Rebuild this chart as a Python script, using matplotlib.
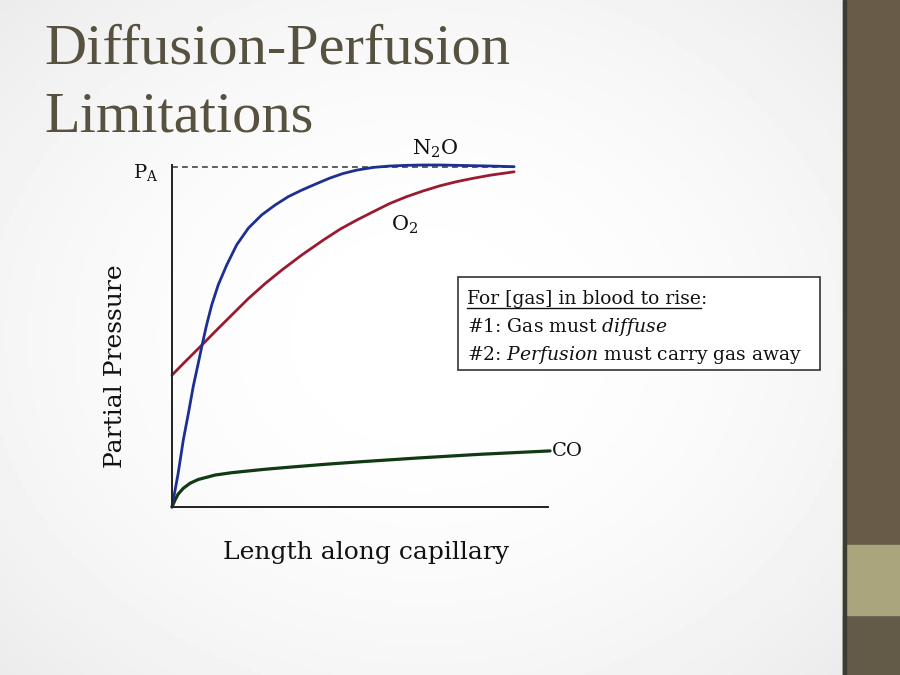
import numpy as np
import matplotlib
matplotlib.use('Agg')
import matplotlib.pyplot as plt
from matplotlib.patches import Rectangle

# ---- data (length along capillary, fraction of P_A) ----
n2o_x = [0.0, 0.018, 0.033, 0.048, 0.062, 0.077, 0.089, 0.101, 0.116, 0.135, 0.160,
         0.189, 0.223, 0.262, 0.301, 0.340, 0.379, 0.420, 0.460, 0.500, 0.540, 0.589,
         0.637, 0.686, 0.735, 0.784, 0.832, 0.881, 0.930, 1.0]
n2o_y = [0.0, 0.099, 0.197, 0.276, 0.354, 0.424, 0.481, 0.535, 0.594, 0.653, 0.712,
         0.771, 0.820, 0.859, 0.888, 0.913, 0.932, 0.950, 0.967, 0.981, 0.991, 0.999,
         1.003, 1.005, 1.006, 1.006, 1.005, 1.004, 1.003, 1.001]

o2_x = [0.0, 0.038, 0.087, 0.126, 0.175, 0.223, 0.272, 0.321, 0.379, 0.442, 0.491,
        0.540, 0.589, 0.637, 0.686, 0.735, 0.784, 0.832, 0.881, 0.930, 1.0]
o2_y = [0.388, 0.427, 0.476, 0.516, 0.565, 0.613, 0.657, 0.697, 0.741, 0.785, 0.817,
        0.844, 0.869, 0.893, 0.913, 0.930, 0.945, 0.957, 0.967, 0.976, 0.986]

co_x = [0.0, 0.009, 0.018, 0.033, 0.053, 0.077, 0.126, 0.175, 0.223, 0.272, 0.354,
        0.453, 0.550, 0.716, 0.900, 1.105]
co_y = [0.0, 0.021, 0.038, 0.055, 0.070, 0.081, 0.094, 0.101, 0.106, 0.111, 0.118,
        0.126, 0.133, 0.144, 0.155, 0.165]

pa_level = 1.0
title_lines = ["Diffusion-Perfusion", "Limitations"]
box_head = "For [gas] in blood to rise"
box_line1 = r"#1: Gas must $\mathit{diffuse}$"
box_line2 = r"#2: $\mathit{Perfusion}$ must carry gas away"

plt.rcParams['mathtext.fontset'] = 'custom'
plt.rcParams['mathtext.rm'] = 'DejaVu Serif'
plt.rcParams['mathtext.it'] = 'DejaVu Serif:italic'

W, H = 900, 675
fig = plt.figure(figsize=(9, 6.75), dpi=100)

def fx(px):
    return px / W

def fy(py):
    return 1 - py / H

# slide background with soft vignette
bg = fig.add_axes([0, 0, 1, 1])
bg.axis('off')
yy, xx = np.mgrid[0:1:200j, 0:1:200j]
r2 = ((xx - 0.47) / 0.5) ** 2 + ((yy - 0.5) / 0.55) ** 2
img = 1 - 0.045 * r2
bg.imshow(img, cmap='gray', vmin=0, vmax=1, extent=[0, 1, 0, 1], aspect='auto')
bg.set_xlim(0, 1)
bg.set_ylim(0, 1)

# right decorative bar
fig.patches.append(Rectangle((fx(843), 0), fx(900) - fx(843), 1, transform=fig.transFigure,
                             color='#685c49', zorder=1))
fig.patches.append(Rectangle((fx(843), 0), fx(900) - fx(843), fy(615),
                             transform=fig.transFigure, color='#635a48', zorder=1.5))
fig.patches.append(Rectangle((fx(843), fy(615)), fx(900) - fx(843), fy(545) - fy(615),
                             transform=fig.transFigure, color='#aaa57d', zorder=2))
fig.patches.append(Rectangle((fx(843), 0), fx(845.5) - fx(843), 1, transform=fig.transFigure,
                             color='#3c3c34', zorder=3))

# title
fig.text(fx(44), fy(63), title_lines[0], ha='left', va='baseline', fontsize=42,
         family='Liberation Serif', color='#57513f')
fig.text(fx(44), fy(131), title_lines[1], ha='left', va='baseline', fontsize=42,
         family='Liberation Serif', color='#57513f')

# main axes
ax = fig.add_axes([fx(172), fy(507), (548 - 172) / W, (507 - 165) / H])
ax.set_facecolor('none')
ax.set_xlim(0, 1.099)
ax.set_ylim(0, 1.006)
for s in ['top', 'right']:
    ax.spines[s].set_visible(False)
for s in ['left', 'bottom']:
    ax.spines[s].set_color('#222222')
    ax.spines[s].set_linewidth(1.4)
ax.set_xticks([])
ax.set_yticks([])

ax.plot([0, 1.0], [pa_level, pa_level], ls=(0, (3.5, 2.5)), color='#444444', lw=1.2)
ax.plot(co_x, co_y, color='#0f3a12', lw=2.3, solid_capstyle='round',
        solid_joinstyle='round', clip_on=False)
ax.plot(o2_x, o2_y, color='#9a1a32', lw=2.0, solid_capstyle='round',
        solid_joinstyle='round', clip_on=False)
ax.plot(n2o_x, n2o_y, color='#1c2f92', lw=2.0, solid_capstyle='round',
        solid_joinstyle='round', clip_on=False)

serif = 'DejaVu Serif'
ax.text(0.77, 1.02, r'$\mathrm{N_2O}$', fontsize=15, family=serif, ha='center', va='bottom',
        color='#111111')
ax.text(0.68, 0.83, r'$\mathrm{O_2}$', fontsize=15, family=serif, ha='center', va='center',
        color='#111111')
ax.text(1.11, co_y[-1], 'CO', fontsize=14, family=serif, ha='left', va='center',
        color='#111111')
ax.text(-0.04, 0.985, r'$\mathrm{P_A}$', fontsize=14, family=serif, ha='right', va='center',
        color='#111111')

# axis labels
fig.text(fx(366), fy(552), 'Length along capillary', fontsize=18, family=serif,
         color='#111111', ha='center', va='center')
fig.text(fx(116), fy(366), 'Partial Pressure', fontsize=18, family=serif,
         color='#111111', ha='center', va='center', rotation=90)

# text box
fig.patches.append(Rectangle((fx(458), fy(370)), fx(820) - fx(458), fy(277) - fy(370),
                             transform=fig.transFigure, facecolor='white', edgecolor='#333333',
                             lw=1.2, zorder=5))
t0 = fig.text(fx(467), fy(304), box_head, fontsize=13.5, family=serif, ha='left',
              va='baseline', color='#111111', zorder=6)
fig.text(fx(467), fy(332), box_line1, fontsize=13.5, family=serif, ha='left', va='baseline',
         color='#111111', zorder=6)
fig.text(fx(467), fy(360), box_line2, fontsize=13.5, family=serif, ha='left', va='baseline',
         color='#111111', zorder=6)

fig.canvas.draw()
bb = t0.get_window_extent(renderer=fig.canvas.get_renderer())
x1 = bb.x1 / fig.bbox.width
fig.text(x1, fy(304), ':', fontsize=13.5, family=serif, ha='left', va='baseline',
         color='#111111', zorder=6)
uy = fy(308)
fig.add_artist(plt.Line2D([fx(467), x1], [uy, uy], transform=fig.transFigure,
                          color='#111111', lw=1.0, zorder=6))

fig.savefig('out.png', dpi=100)
